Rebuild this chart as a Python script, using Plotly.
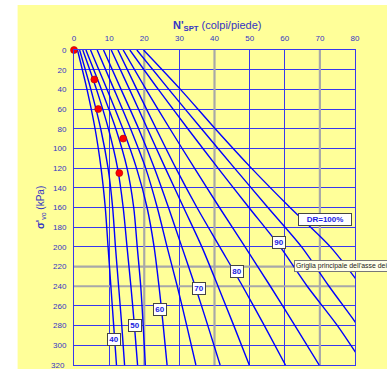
import plotly.graph_objects as go

# effective vertical stress levels (kPa) at which each curve was read
sigma = [0, 40, 80, 120, 160, 200, 240, 280, 320]

# N'SPT read for each relative density curve
dr_labels = ["40", "45", "50", "55", "60", "65", "70", "75", "80", "85", "90", "95", "100"]
n_dr40 = [1.0, 3.7, 6.0, 7.7, 8.9, 9.7, 10.5, 11.3, 12.1]
n_dr45 = [1.6, 4.8, 7.6, 9.7, 11.0, 11.8, 12.7, 13.6, 14.4]
n_dr50 = [2.5, 6.4, 9.8, 12.4, 14.0, 15.1, 16.2, 17.2, 18.1]
n_dr55 = [3.4, 7.8, 11.9, 15.1, 17.0, 18.0, 19.0, 19.7, 20.3]
n_dr60 = [4.7, 9.4, 13.9, 17.8, 20.8, 22.8, 24.2, 25.4, 26.5]
n_dr65 = [6.6, 11.4, 16.1, 20.4, 23.7, 26.5, 29.4, 32.1, 34.7]
n_dr70 = [8.4, 13.4, 18.4, 22.9, 26.9, 30.7, 34.5, 38.1, 41.6]
n_dr75 = [10.6, 15.8, 20.9, 26.0, 31.2, 36.4, 41.0, 45.5, 49.9]
n_dr80 = [12.5, 17.9, 23.4, 29.0, 35.0, 41.5, 48.0, 54.2, 60.2]
n_dr85 = [14.0, 20.5, 27.3, 34.3, 41.4, 48.7, 55.9, 62.9, 69.8]
n_dr90 = [15.9, 24.0, 32.4, 41.0, 49.8, 58.7, 66.4, 75.0, 82.5]
n_dr95 = [17.9, 27.0, 36.3, 45.7, 55.2, 64.8, 72.6, 80.8, 88.5]
n_dr100 = [19.8, 30.3, 40.2, 50.5, 61.5, 73.0, 81.8, 90.0, 98.0]
curves = [n_dr40, n_dr45, n_dr50, n_dr55, n_dr60, n_dr65, n_dr70,
          n_dr75, n_dr80, n_dr85, n_dr90, n_dr95, n_dr100]

# measured points
pt_n = [0, 5.8, 6.9, 14.0, 12.9]
pt_sigma = [0, 30, 60, 90, 125]

# curve label texts and their positions (N, sigma)
lab_text = ["DR=100%", "90", "80", "70", "60", "50", "40"]
lab_n = [71.4, 58.3, 46.3, 35.5, 24.6, 17.4, 11.3]
lab_sigma = [171.7, 195.6, 224.7, 242.5, 263.3, 280.2, 294.1]

x_ticks = [0, 10, 20, 30, 40, 50, 60, 70, 80]
y_ticks = list(range(0, 321, 20))
grey_x = [20, 40, 70]
grey_y = [220, 240]

BLUE = "#0000FF"
GRID = "#3838EE"
TXT = "#3434C4"
YEL = "#FFFF99"
FONT = "Arial, Liberation Sans"

fig = go.Figure()
for name, n in zip(dr_labels, curves):
    fig.add_trace(go.Scatter(x=n, y=sigma, mode="lines", name="DR=" + name + "%",
                             line=dict(color=BLUE, width=1.4, shape="spline", smoothing=0.8),
                             hoverinfo="skip", showlegend=False))

fig.add_trace(go.Scatter(x=pt_n, y=pt_sigma, mode="markers", showlegend=False,
                         marker=dict(color="#FF0000", size=7, line=dict(color="#B00000", width=0.6)),
                         cliponaxis=False))

for t, xn, ys in zip(lab_text, lab_n, lab_sigma):
    wide = len(t) > 3
    fig.add_annotation(x=xn, y=ys, text="<b>" + t + "</b>", showarrow=False,
                       xanchor="center", yanchor="middle",
                       font=dict(family=FONT, size=8, color="#2020E0"),
                       bgcolor="white", bordercolor="#444444", borderwidth=1,
                       borderpad=1, width=50 if wide else 10, height=9)

# grey highlighted gridlines
for gx in grey_x:
    fig.add_shape(type="line", x0=gx, x1=gx, y0=0, y1=320, xref="x", yref="y",
                  line=dict(color="#A8A8A8", width=2.2), layer="between")
for gy in grey_y:
    fig.add_shape(type="line", x0=0, x1=80, y0=gy, y1=gy, xref="x", yref="y",
                  line=dict(color="#A8A8A8", width=2.2), layer="between")

# white frame outside the yellow chart area
fig.add_shape(type="rect", xref="paper", yref="paper", x0=-0.27, x1=-0.2007, y0=-0.05, y1=1.2,
              fillcolor="white", line=dict(width=0), layer="below")
fig.add_shape(type="rect", xref="paper", yref="paper", x0=-0.27, x1=1.2, y0=1.1429, y1=1.2,
              fillcolor="white", line=dict(width=0), layer="below")

# axis titles
fig.add_annotation(xref="paper", yref="paper", x=0.5115, y=1.077, showarrow=False,
                   xanchor="center", yanchor="middle",
                   text="<b>N'</b><sub><b>SPT</b></sub> (colpi/piede)",
                   font=dict(family=FONT, size=11, color=TXT))
fig.add_annotation(xref="paper", yref="paper", x=-0.119, y=0.5, showarrow=False, textangle=-90,
                   xanchor="center", yanchor="middle",
                   text="<b>σ'</b><sub>vo</sub> (kPa)",
                   font=dict(family=FONT, size=10, color=TXT))

# bottom tick label (kept as text so it is not dropped at the figure edge)
fig.add_annotation(xref="paper", yref="y", x=-0.025, y=y_ticks[-1], showarrow=False,
                   xanchor="right", yanchor="middle", text=str(y_ticks[-1]),
                   font=dict(family=FONT, size=8, color=TXT))

# tooltip
fig.add_annotation(xref="paper", yref="paper", x=(293.5 - 73.5) / 281.5, y=(365 - 265.5) / 315,
                   xanchor="left", yanchor="middle", showarrow=False, align="left",
                   text="Griglia principale dell'asse dei",
                   font=dict(family=FONT, size=6.9, color="#222222"),
                   bgcolor="#FFFFE8", bordercolor="#777777", borderwidth=1, borderpad=1)

fig.update_xaxes(side="top", range=[0, 80], tickvals=x_ticks, showgrid=True, gridcolor=GRID,
                 gridwidth=1, zeroline=False, showline=True, mirror=True, linecolor=GRID,
                 ticks="outside", ticklen=5, tickcolor="rgba(0,0,0,0)",
                 tickfont=dict(family=FONT, size=8, color=TXT))
fig.update_yaxes(range=[320, 0], tickvals=y_ticks[:-1], showgrid=True, gridcolor=GRID,
                 gridwidth=1, zeroline=False, showline=True, mirror=True, linecolor=GRID,
                 ticks="outside", ticklen=5, tickcolor="rgba(0,0,0,0)",
                 tickfont=dict(family=FONT, size=8, color=TXT))

fig.update_layout(width=387, height=369, margin=dict(l=73.5, r=32, t=50, b=4),
                  paper_bgcolor=YEL, plot_bgcolor=YEL, showlegend=False)

fig.write_html("out.html", config={"displayModeBar": False},
               post_script="document.body.style.margin='0';document.body.style.overflow='hidden';")
